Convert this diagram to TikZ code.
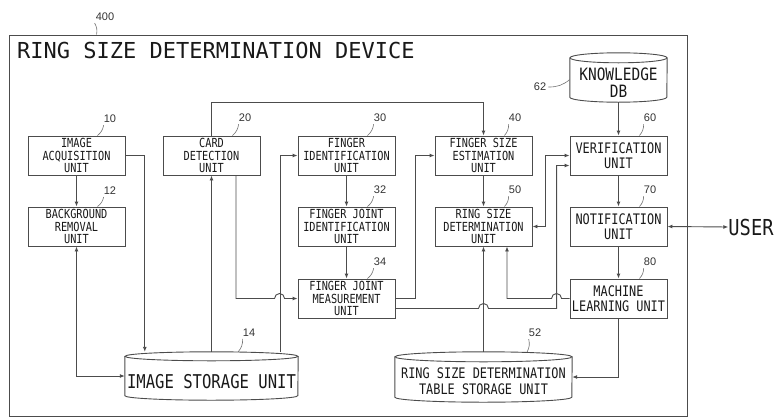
\documentclass[tikz,border=0pt]{standalone}
\usepackage{fontspec}
\setmainfont{Liberation Sans}
\newfontfamily\boxf[FakeStretch=0.85]{DejaVu Sans Mono}
\newfontfamily\unitf[FakeStretch=0.82]{DejaVu Sans Mono}
\newfontfamily\titf{DejaVu Sans Mono}
\usetikzlibrary{arrows.meta,calc}
\newcommand\cylout[3]{%
  \draw[line] ([yshift=-#3]#1.north) ellipse[x radius=#2, y radius=#3];
  \draw[line] ([yshift=-#3]#1.north west) -- ([yshift=#3]#1.south west)
     arc[start angle=180,end angle=360,x radius=#2,y radius=#3] -- ([yshift=-#3]#1.north east);}
\begin{document}
\begin{tikzpicture}[x=1pt,y=-1pt,
  line/.style={draw=black!70, line width=0.9pt},
  arr/.style={line, -{Latex[length=5pt,width=4pt]}},
  darr/.style={line, {Latex[length=5pt,width=4pt]}-{Latex[length=5pt,width=4pt]}},
  unit/.style={draw=black!70, line width=0.9pt, minimum width=97pt, minimum height=39pt,
    inner sep=0pt, align=center, text=black!90, font=\unitf\fontsize{12.5}{12.8}\selectfont},
  unit2/.style={unit, font=\unitf\fontsize{14.5}{15}\selectfont},
  num/.style={font=\fontsize{11}{11}\selectfont, text=black!80, inner sep=0pt},
  lead/.style={draw=black!55, line width=0.6pt},
  cyl/.style={inner sep=0pt},
  cyltext/.style={inner sep=0pt, align=center, text=black!90}
]
\useasboundingbox (0,0) rectangle (774,418);
\node[draw=black!70, line width=0.9pt, minimum width=678pt, minimum height=381pt, inner sep=0pt] (frame) at (348,225.5) {};
\node[anchor=west, inner sep=0pt, text=black!90, font=\titf\fontsize{22}{22}\selectfont] (title) at (17,50) {RING SIZE DETERMINATION DEVICE};

% units
\node[unit] (b10) at (76.5,155.5) {IMAGE\\ACQUISITION\\UNIT};
\node[unit] (b12) at (76.5,226.5) {BACKGROUND\\REMOVAL\\UNIT};
\node[unit] (b20) at (211.5,155.5) {CARD\\DETECTION\\UNIT};
\node[unit] (b30) at (346.5,155.5) {FINGER\\IDENTIFICATION\\UNIT};
\node[unit] (b32) at (346.5,226.5) {FINGER JOINT\\IDENTIFICATION\\UNIT};
\node[unit] (b34) at (346.5,298.5) {FINGER JOINT\\MEASUREMENT\\UNIT};
\node[unit] (b40) at (483.5,155.5) {FINGER SIZE\\ESTIMATION\\UNIT};
\node[unit] (b50) at (483.5,226.5) {RING SIZE\\DETERMINATION\\UNIT};
\node[unit2] (b60) at (618.5,155.5) {VERIFICATION\\UNIT};
\node[unit2] (b70) at (618.5,226.5) {NOTIFICATION\\UNIT};
\node[unit2] (b80) at (618.5,298.5) {MACHINE\\LEARNING UNIT};

% cylinders
\node[cyl, minimum width=97pt, minimum height=49pt] (db62) at (618.5,77.5) {};
\cylout{db62}{48.5pt}{5pt}
\node[cyltext, font=\boxf\fontsize{17}{17}\selectfont] (db62t) at (618.5,83) {KNOWLEDGE\\DB};
\node[cyl, minimum width=173pt, minimum height=48pt] (s14) at (211.5,376) {};
\cylout{s14}{86.5pt}{4.5pt}
\node[cyltext, font=\unitf\fontsize{19}{19}\selectfont] (s14t) at (211.5,382) {IMAGE STORAGE UNIT};
\node[cyl, minimum width=177pt, minimum height=50pt] (s52) at (483.5,377) {};
\cylout{s52}{88.5pt}{5pt}
\node[cyltext, font=\unitf\fontsize{14.5}{15.5}\selectfont] (s52t) at (483.5,381) {RING SIZE DETERMINATION\\TABLE STORAGE UNIT};

\node[inner sep=0pt, text=black!90, font=\boxf\fontsize{22}{22}\selectfont] (user) at (751,227) {USER};

% reference numbers
\node[num] (n400) at (105,17) {400};
\node[num] (n10) at (110,119) {10};
\node[num] (n12) at (110,191) {12};
\node[num] (n20) at (245,118) {20};
\node[num] (n30) at (380,118) {30};
\node[num] (n32) at (380,190) {32};
\node[num] (n34) at (380,262) {34};
\node[num] (n40) at (515,118) {40};
\node[num] (n50) at (515,190) {50};
\node[num] (n60) at (650,118) {60};
\node[num] (n70) at (650,190) {70};
\node[num] (n80) at (650,262) {80};
\node[num] (n14) at (249,333) {14};
\node[num] (n52) at (535,333) {52};
\node[num] (n62) at (540,87) {62};

% leader lines
\draw[lead] ([shift={(-1,2)}]n400.south west) to[bend left=20] ($(frame.north west)+(88,0)$);
\draw[lead] ([shift={(0,2)}]n10.south west) to[bend left=20] ($(b10.north east)+(-28,0)$);
\draw[lead] ([shift={(0,2)}]n12.south west) to[bend left=20] ($(b12.north east)+(-28,0)$);
\draw[lead] ([shift={(0,2)}]n20.south west) to[bend left=20] ($(b20.north east)+(-28,0)$);
\draw[lead] ([shift={(0,2)}]n30.south west) to[bend left=20] ($(b30.north east)+(-28,0)$);
\draw[lead] ([shift={(0,2)}]n32.south west) to[bend left=20] ($(b32.north east)+(-28,0)$);
\draw[lead] ([shift={(0,2)}]n34.south west) to[bend left=20] ($(b34.north east)+(-28,0)$);
\draw[lead] ([shift={(0,2)}]n40.south west) to[bend left=20] ($(b40.north east)+(-28,0)$);
\draw[lead] ([shift={(0,2)}]n50.south west) to[bend left=20] ($(b50.north east)+(-28,0)$);
\draw[lead] ([shift={(0,2)}]n60.south west) to[bend left=20] ($(b60.north east)+(-28,0)$);
\draw[lead] ([shift={(0,2)}]n70.south west) to[bend left=20] ($(b70.north east)+(-28,0)$);
\draw[lead] ([shift={(0,2)}]n80.south west) to[bend left=20] ($(b80.north east)+(-28,0)$);
\draw[lead] ([shift={(0,2)}]n14.south west) to[bend left=20] ($(s14.north east)+(-60,0)$);
\draw[lead] ([shift={(0,2)}]n52.south west) to[bend left=20] ($(s52.north east)+(-45,0)$);
\draw[lead] ([shift={(2,0)}]n62.east) to[bend right=20] ($(db62.west)+(0,2)$);

% connectors
\coordinate (j1) at ($(b34.east)+(0,10)$);
\coordinate (j2) at (j1 -| s52.north);
\coordinate (j3) at ($(b60.west)+(-13,10)$);

\draw[arr] (b10.south) -- (b12.north);
\draw[arr] (b10.east) -| ($(s14.north west)+(20,0)$);
\draw[darr] (b12.south) |- (s14.west);
\draw[arr] (s14.north) -- (b20.south);
\draw[arr] (b20.north) -- ++(0,-33) -| (b40.north);
\draw[arr] ($(s14.north east)+(-18,0)$) |- (b30.west);
\draw[arr] ($(b20.south)+(24.5,0)$) |- ([xshift=-23pt]b34.west) arc[start angle=180,end angle=0,radius=5pt] -- (b34.west);
\draw[arr] (b30.south) -- (b32.north);
\draw[arr] (b32.south) -- (b34.north);
\draw[arr] (b34.east) -- ++(20,0) |- (b40.west);
\draw[arr] (b40.south) -- (b50.north);
\draw[arr] (s52.north) -- (b50.south);
\draw[darr] (b50.east) -- ++(13,0) |- (b60.west);
\draw[arr] (j1) -- ($(j2)+(-5,0)$) arc[start angle=180,end angle=0,radius=5pt] -- (j3 |- j1) -- (j3) -- ($(b60.west)+(0,10)$);
\draw[arr] (b80.west) -- ($(j3 |- b80.west)+(5,0)$) arc[start angle=0,end angle=180,radius=5pt] -| ($(b50.south)+(23.5,0)$);
\draw[arr] (b80.south) |- (s52.east);
\draw[arr] (db62.south) -- (b60.north);
\draw[arr] (b60.south) -- (b70.north);
\draw[arr] (b70.south) -- (b80.north);
\draw[darr] (b70.east) -- (user.west);
\end{tikzpicture}
\end{document}
